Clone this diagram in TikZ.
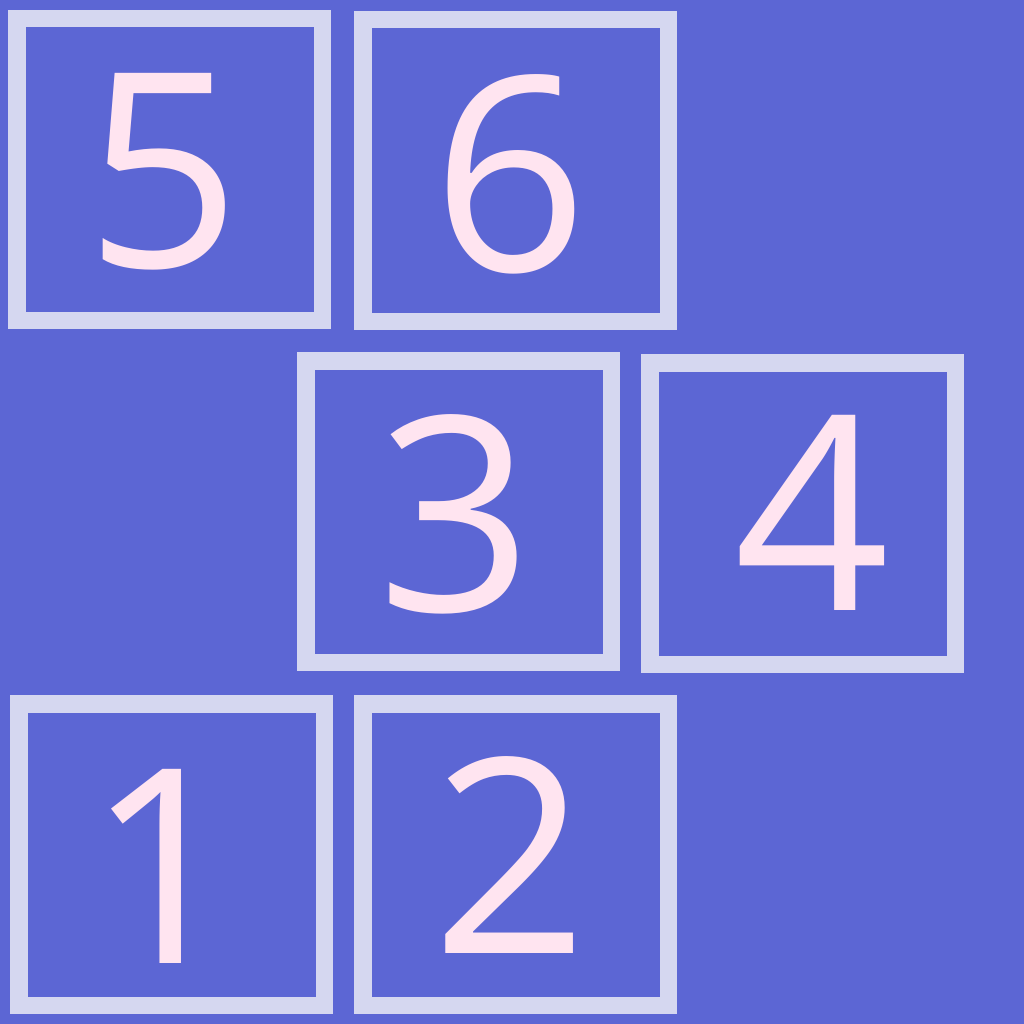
\documentclass[tikz,border=0pt]{standalone}
\usepackage{fontspec}
\usepackage{tikz}
\newfontfamily\digitfont{Open Sans}
\definecolor{bgblue}{RGB}{92,102,212}
\definecolor{frame}{RGB}{213,215,240}
\definecolor{digitpink}{RGB}{255,228,240}
\tikzset{tile/.style={draw=frame, line width=17.5pt, minimum width=305.5pt, minimum height=301.5pt, inner sep=0pt, outer sep=0pt},
%digits sit on their baseline
digit/.style={text=digitpink, anchor=base, inner sep=0pt, font=\digitfont\fontsize{272}{290}\selectfont}}

\begin{document}
\begin{tikzpicture}[x=1pt,y=-1pt]
% background
\fill[bgblue] (0,0) rectangle (1024,1024);
\useasboundingbox (0,0) rectangle (1024,1024);

% frames
\foreach \x/\y/\n in {169.5/169.5/5, 515.5/170.5/6, 458.5/511.5/3, 802.5/513.5/4, 171.5/854.5/1, 515.5/854.5/2}
     \node[tile] (tile\n) at (\x,\y) {};

% numbers
\foreach \x/\y/\n in {163.5/267/5, 510/271/6, 455/611/3, 812.5/610/4, 164/963/1, 510.5/953/2}
     \node[digit] (num\n) at (\x,\y) {\n};

\end{tikzpicture}
\end{document}
